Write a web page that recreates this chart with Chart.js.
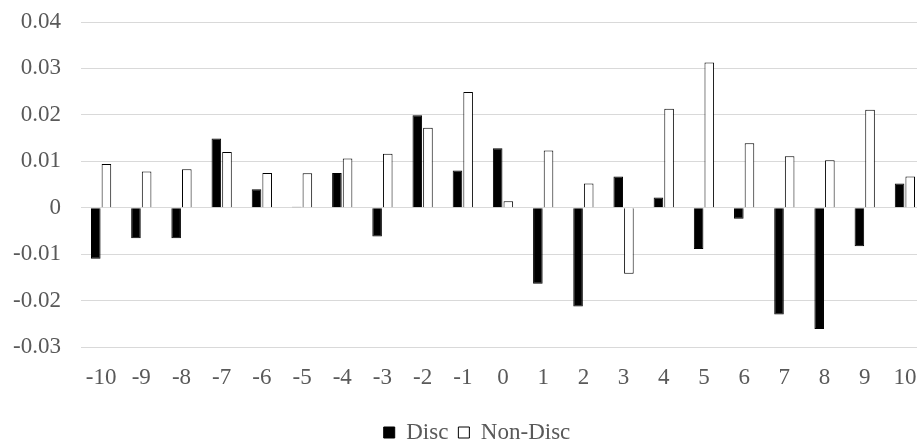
<!DOCTYPE html>
<html>
<head>
<meta charset="utf-8">
<script src="https://cdn.jsdelivr.net/npm/chart.js@4.4.1/dist/chart.umd.min.js"></script>
<style>
  html, body { margin: 0; padding: 0; background: #fff; overflow: hidden; }
  #wrap { width: 917px; height: 443px; overflow: hidden; }
</style>
</head>
<body>
<div id="wrap"><canvas id="c" width="954" height="454"></canvas></div>
<script>
// Event window offsets
const categories = ['-10','-9','-8','-7','-6','-5','-4','-3','-2','-1','0','1','2','3','4','5','6','7','8','9','10'];

// Average abnormal returns per day
const discValues = [-0.0110, -0.0066, -0.0066, 0.0149, 0.0040, 0.0002, 0.0075, -0.0062, 0.0199, 0.0080,
                    0.0128, -0.0164, -0.0213, 0.0067, 0.0022, -0.0089, -0.0024, -0.0230, -0.0261, -0.0083, 0.0052];
const nonDiscValues = [0.0094, 0.0078, 0.0083, 0.0120, 0.0075, 0.0074, 0.0106, 0.0116, 0.0172, 0.0249,
                       0.0014, 0.0123, 0.0052, -0.0142, 0.0213, 0.0313, 0.0139, 0.0111, 0.0102, 0.0211, 0.0067];

const yTicks = [-0.03, -0.02, -0.01, 0, 0.01, 0.02, 0.03, 0.04];

const serif = '"Liberation Serif", "Times New Roman", serif';
const textGray = '#595959';

// Centre the legend on the whole canvas rather than the padded layout box
const legendCentre = {
  id: 'legendCentre',
  afterLayout(chart) {
    const lg = chart.legend;
    if (!lg) return;
    const shift = chart.width / 2 - (lg.left + lg.right) / 2;
    lg.left += shift;
    lg.right += shift;
  }
};

new Chart(document.getElementById('c'), {
  type: 'bar',
  data: {
    labels: categories,
    datasets: [
      {
        label: 'Disc',
        data: discValues,
        backgroundColor: '#000000',
        borderColor: '#000000',
        borderWidth: 1
      },
      {
        label: 'Non-Disc',
        data: nonDiscValues,
        backgroundColor: '#ffffff',
        borderColor: '#000000',
        borderWidth: 1
      }
    ]
  },
  options: {
    responsive: false,
    animation: false,
    events: [],
    layout: { padding: { left: 0, right: 29, top: 22, bottom: 0 } },
    datasets: {
      bar: { categoryPercentage: 0.53, barPercentage: 0.9 }
    },
    plugins: {
      tooltip: { enabled: false },
      legend: {
        position: 'bottom',
        labels: {
          color: textGray,
          font: { family: serif, size: 23 },
          boxWidth: 11,
          boxHeight: 11,
          padding: 10
        }
      }
    },
    scales: {
      x: {
        grid: { display: false, drawTicks: false },
        border: { display: false },
        ticks: {
          color: textGray,
          font: { family: serif, size: 23 },
          padding: 17,
          maxRotation: 0,
          autoSkip: false
        },
        afterFit: s => { s.height = 64; s.paddingLeft = 0; s.paddingRight = 0; }
      },
      y: {
        min: yTicks[0],
        max: yTicks[yTicks.length - 1],
        afterBuildTicks: s => { s.ticks = yTicks.map(v => ({ value: v })); },
        grid: { color: '#d9d9d9', lineWidth: 1, drawTicks: false },
        border: { display: false },
        ticks: {
          color: textGray,
          font: { family: serif, size: 23 },
          padding: 20,
          callback: v => String(Math.round(v * 100) / 100)
        },
        afterFit: s => { s.width = 81; s.paddingTop = 0; s.paddingBottom = 0; }
      }
    }
  },
  plugins: [legendCentre]
});
</script>
</body>
</html>
